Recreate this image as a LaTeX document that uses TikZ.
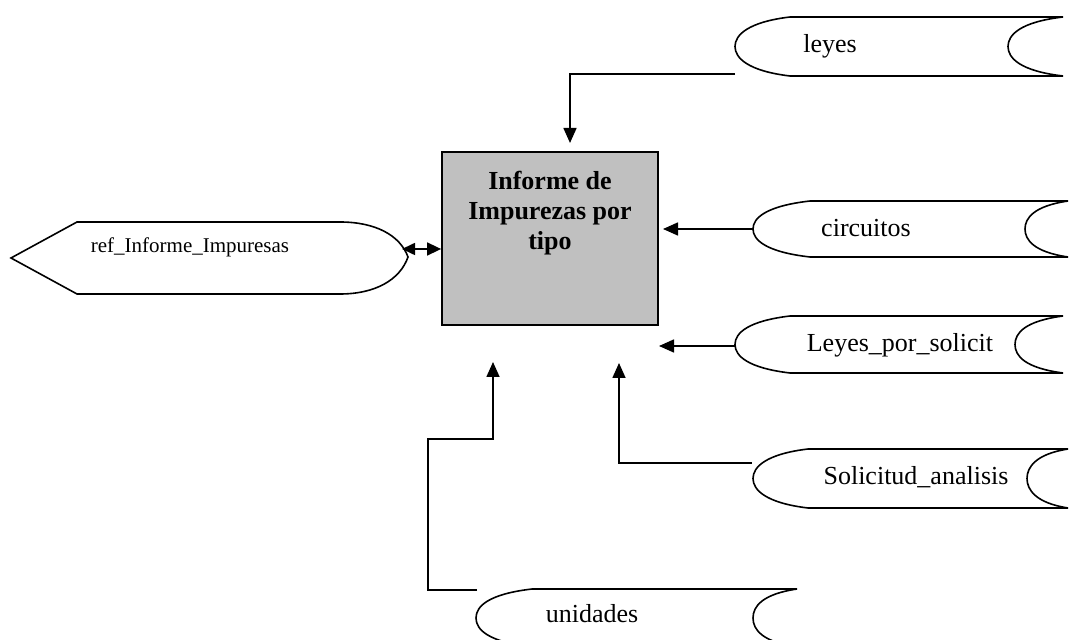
\documentclass[tikz,border=0pt]{standalone}
\usepackage{fontspec}
\setmainfont{Liberation Serif}
\usetikzlibrary{arrows.meta}
\definecolor{procgray}{RGB}{192,192,192}

\tikzset{
  flow/.style={line width=0.8pt,-{Triangle[length=7.5pt,width=6.5pt]}},
  biflow/.style={line width=0.8pt,{Triangle[length=6.5pt,width=6pt]}-{Triangle[length=7pt,width=6.5pt]}},
  storeline/.style={line width=0.8pt},
  storelabel/.style={inner sep=0pt,anchor=base,font=\fontsize{13}{15.5}\selectfont},
  reflabel/.style={inner sep=0pt,anchor=base,font=\fontsize{10.5}{12.5}\selectfont},
  procbox/.style={draw,line width=0.9pt,fill=procgray,minimum width=108pt,minimum height=86.5pt,inner sep=0pt},
  proclabel/.style={inner sep=0pt,anchor=north,align=center,font=\fontsize{13}{15}\selectfont\bfseries},
}

\begin{document}
\begin{tikzpicture}[x=0.5pt,y=0.5pt,yscale=-1,xscale=1]
            \useasboundingbox (0,0) rectangle (1071,640);
            % process
            \node[procbox] (proc) at (550,238.5) {};
            \node[proclabel] (proctext) at (550,171) {Informe de\\Impurezas por\\tipo};
            % external entity
            \draw[storeline] (77,222) -- (340,222) .. controls (375,222) and (400,235) .. (408,257) .. controls (400,280) and (375,294) .. (340,294) -- (77,294) -- (11,258) -- cycle;
            \node[reflabel] (refinf) at (190,253) {ref\_Informe\_Impuresas};
            % stores
            \draw[storeline] (790,17) -- (1063,17) .. controls (1020,22) and (1008,35) .. (1008,46.5) .. controls (1008,58) and (1020,71) .. (1063,76) -- (790,76) .. controls (748,71) and (735,58) .. (735,46.5) .. controls (735,35) and (748,22) .. (790,17);
            \draw[storeline] (810,201) -- (1068,201) .. controls (1034,206) and (1025,218) .. (1025,229) .. controls (1025,240) and (1034,252) .. (1068,257) -- (810,257) .. controls (766,252) and (753,240) .. (753,229) .. controls (753,218) and (766,206) .. (810,201);
            \draw[storeline] (790,316) -- (1063,316) .. controls (1025,321) and (1015,333) .. (1015,344.5) .. controls (1015,356) and (1025,368) .. (1063,373) -- (790,373) .. controls (748,368) and (735,356) .. (735,344.5) .. controls (735,333) and (748,321) .. (790,316);
            \draw[storeline] (808,449) -- (1068,449) .. controls (1036,454) and (1027,467) .. (1027,478.5) .. controls (1027,490) and (1036,503) .. (1068,508) -- (808,508) .. controls (766,503) and (753,490) .. (753,478.5) .. controls (753,467) and (766,454) .. (808,449);
            \draw[storeline] (532,589) -- (797,589) .. controls (763,594) and (753,606) .. (753,618) .. controls (753,630) and (763,642) .. (797,647) -- (532,647) .. controls (489,642) and (476,630) .. (476,618) .. controls (476,606) and (489,594) .. (532,589);
            \node[storelabel] (leyes) at (830,53) {leyes};
            \node[storelabel] (circuitos) at (866,237) {circuitos};
            \node[storelabel] (leyessol) at (900,352) {Leyes\_por\_solicit};
            \node[storelabel] (solicitud) at (916,485) {Solicitud\_analisis};
            \node[storelabel] (unidades) at (592,623) {unidades};
            % flows
            \coordinate (leyes out) at (735,74);
            \coordinate (leyes in) at (570,143);
            \coordinate (circ out) at (753,229);
            \coordinate (circ in) at (663,229);
            \coordinate (lsol out) at (735,346);
            \coordinate (lsol in) at (659,346);
            \coordinate (sol out) at (752,463);
            \coordinate (sol in) at (619,363);
            \coordinate (unid out) at (477,590);
            \coordinate (unid bend) at (428,439);
            \coordinate (unid in) at (493,362);
            \coordinate (ref end) at (402,249);
            \draw[flow] (leyes out) -| (leyes in);
            \draw[flow] (circ out) -- (circ in);
            \draw[flow] (lsol out) -- (lsol in);
            \draw[flow] (sol out) -| (sol in);
            \draw[flow] (unid out) -| (unid bend) -| (unid in);
            \draw[biflow] (ref end) -- (ref end -| proc.west);
        \end{tikzpicture}
\end{document}
